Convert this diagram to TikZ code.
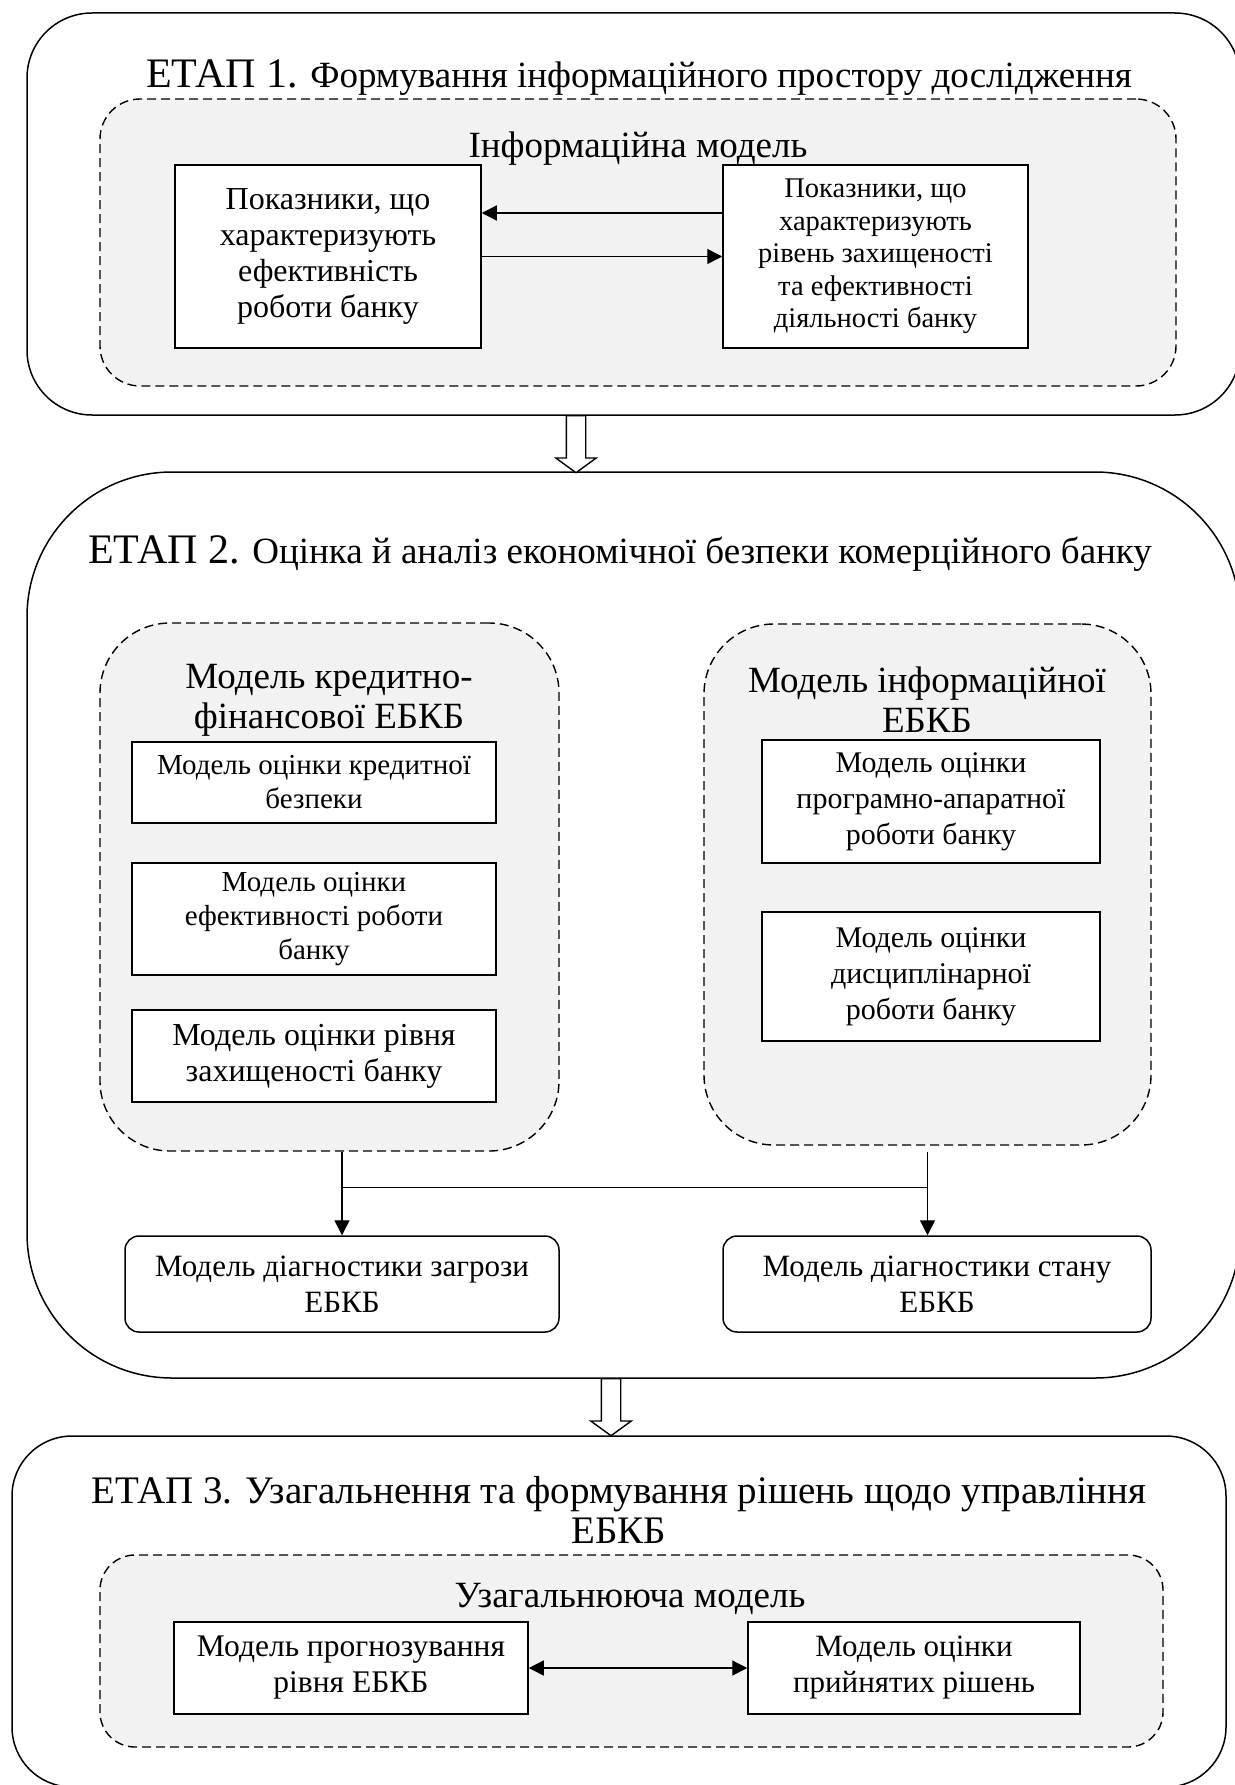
\documentclass[tikz,border=0pt]{standalone}
\usepackage{fontspec}
\setmainfont{Liberation Serif}
\usetikzlibrary{shapes.arrows, arrows.meta, calc}

\newcommand\stagefont{\fontsize{42}{44}\selectfont}
\newcommand\headfont{\fontsize{37}{40}\selectfont}

\begin{document}
\begin{tikzpicture}[x=1pt,y=-1pt,
	stage/.style={draw, line width=1.5pt, inner sep=0pt},
	group/.style={draw, dash pattern=on 9pt off 5pt, line width=1.4pt, fill=grp, inner sep=0pt},
	model/.style={draw, fill=white, line width=1.5pt, align=center, inner sep=0pt, font=\fontsize{29}{34}\selectfont},
	caption/.style={align=center, inner sep=0pt, font=\headfont},
	arr/.style={-{Triangle[length=15pt,width=15pt]}, line width=1.4pt},
	both/.style={{Triangle[length=15pt,width=15pt]}-{Triangle[length=15pt,width=15pt]}, line width=1.4pt},
	hollow/.style={single arrow, draw, line width=1.4pt, fill=white, inner sep=9pt, single arrow head extend=10.5pt, single arrow tip angle=108, minimum height=57pt, shape border rotate=270}]
	\definecolor{grp}{RGB}{242,242,242}
	\useasboundingbox (0,0) rectangle (1234,1785);

	\node (st1) at (633.5,214) [stage, rounded corners=65pt, minimum width=1213pt, minimum height=402pt]{};
	\node (st2) at (633.5,925) [stage, rounded corners=145pt, minimum width=1213pt, minimum height=906pt]{};
	\node (st3) at (619,1611.5) [stage, rounded corners=60pt, minimum width=1214pt, minimum height=351pt]{};

	\node (t1) at (639,88) [caption, anchor=base]{{\stagefont ЕТАП 1.} Формування інформаційного простору дослідження};
	\node (gr1) at (638,242.5) [group, rounded corners=40pt, minimum width=1076pt, minimum height=287pt]{};
	\node (gt1) at (638,157) [caption, anchor=base]{Інформаційна модель};
	\node (pk1) at (328,256.5) [model, minimum width=306pt, minimum height=183pt, font=\fontsize{32}{36}\selectfont]{Показники, що\\характеризують\\ефективність\\роботи банку};
	\node (pk2) at (875.5,256.5) [model, minimum width=305pt, minimum height=183pt, font=\fontsize{28.5}{32.5}\selectfont]{Показники, що\\характеризують\\рівень захищеності\\та ефективності\\діяльності банку};
	\draw[arr] ([yshift=43.5pt]pk2.west) -- ([yshift=43.5pt]pk1.east);
	\draw[arr] (pk1.east) -- (pk2.west);

	\node (h1) at (576,415) [hollow, anchor=tail]{};

	\node (t2) at (620,563) [caption, anchor=base]{{\stagefont ЕТАП 2.} Оцінка й аналіз економічної безпеки комерційного банку};
	\node (ld) at (329.5,887) [group, rounded corners=70pt, minimum width=459pt, minimum height=528pt]{};
	\node (rd) at (927.5,884.5) [group, rounded corners=70pt, minimum width=447pt, minimum height=521pt]{};
	\node (lt) at (329,700) [caption]{Модель кредитно-\\фінансової ЕБКБ};
	\node (rt) at (927,700) [caption]{Модель інформаційної\\ЕБКБ};
	\node (lb1) at (314,782.5) [model, minimum width=364pt, minimum height=81pt]{Модель оцінки кредитної\\безпеки};
	\node (lb2) at (314,919) [model, minimum width=364pt, minimum height=112pt]{Модель оцінки\\ефективності роботи\\банку};
	\node (lb3) at (314,1056) [model, minimum width=364pt, minimum height=92pt, font=\fontsize{32}{36}\selectfont]{Модель оцінки рівня\\захищеності банку};
	\node (rb1) at (931,801.5) [model, minimum width=338pt, minimum height=123pt, font=\fontsize{30}{36}\selectfont]{Модель оцінки\\програмно-апаратної\\роботи банку};
	\node (rb2) at (931,976.5) [model, minimum width=338pt, minimum height=129pt, font=\fontsize{30}{36}\selectfont]{Модель оцінки\\дисциплінарної\\роботи банку};
	\node (dg1) at (342,1284) [model, rounded corners=14pt, minimum width=434pt, minimum height=96pt, font=\fontsize{31}{36}\selectfont]{Модель діагностики загрози\\ЕБКБ};
	\node (dg2) at (937,1284) [model, rounded corners=14pt, minimum width=428pt, minimum height=96pt, font=\fontsize{31}{36}\selectfont]{Модель діагностики стану\\ЕБКБ};
	\path (dg1.north) ++(0,-48) coordinate (jl);
	\draw[arr] (ld.south -| dg1.north) -- (dg1.north);
	\draw[arr] ([yshift=-6pt]rd.south) -- (rd.south |- dg2.north);
	\draw[line width=1.4pt] (jl) -- (jl -| rd.south);

	\node (h2) at (611,1378) [hollow, anchor=tail]{};

	\node (t3) at (619,1510) [caption, font=\fontsize{39}{40}\selectfont]{ЕТАП 3. Узагальнення та формування рішень щодо управління\\ЕБКБ};
	\node (gr3) at (631.5,1651) [group, rounded corners=35pt, minimum width=1063pt, minimum height=192pt]{};
	\node (gt3) at (630,1607) [caption, anchor=base]{Узагальнююча модель};
	\node (gb1) at (351,1668) [model, minimum width=354pt, minimum height=92pt, font=\fontsize{31.5}{36}\selectfont]{Модель прогнозування\\рівня ЕБКБ};
	\node (gb2) at (914,1668) [model, minimum width=332pt, minimum height=92pt, font=\fontsize{31}{36}\selectfont]{Модель оцінки\\прийнятих рішень};
	\draw[both] (gb1.east) -- (gb2.west);
\end{tikzpicture}
\end{document}
